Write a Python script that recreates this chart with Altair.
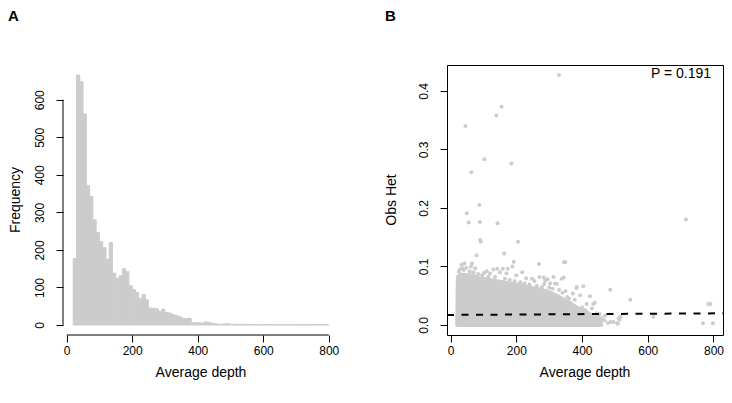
import altair as alt
import pandas as pd

# ---------------- Panel A: histogram of average depth ----------------
bin_starts = list(range(20, 800, 10))
bin_counts = [177, 666, 648, 562, 371, 342, 280, 246, 222, 206,
              175, 220, 138, 124, 131, 150, 142, 105, 94, 87,
              70, 81, 67, 45, 44, 43, 36, 42, 33, 32,
              28, 25, 22, 18, 17, 18, 6, 6, 6, 5,
              8, 7, 4, 3, 2, 2, 3, 3, 1, 2,
              1, 1, 2, 1, 1, 1, 0, 1, 1, 1,
              1, 0, 1, 0, 1, 1, 0, 1, 0, 1,
              0, 1, 0, 1, 1, 1, 1, 1]
hist_ticks_x = [0, 200, 400, 600, 800]
hist_ticks_y = [0, 100, 200, 300, 400, 500, 600]

# ---------------- Panel B: obs het vs average depth ----------------
# upper envelope of the dense (overplotted) point cloud
cloud_x = [20, 22, 30, 60, 90, 120, 150, 180, 210, 240, 270, 300, 330, 360, 390, 420, 440, 452, 458]
cloud_top = [0.0, 0.082, 0.086, 0.085, 0.080, 0.077, 0.074, 0.071, 0.068, 0.064,
             0.061, 0.056, 0.048, 0.038, 0.028, 0.020, 0.013, 0.008, 0.0]
# individually visible points
pt_x = [330, 45, 155, 139, 63, 103, 185, 49, 87, 55, 89, 143, 716, 90, 92, 205, 79, 163,
        269, 345, 349, 192,
        33, 42, 65, 62, 36, 28, 48, 75, 102, 110, 130, 142, 159, 174, 188, 120, 150, 170,
        200, 218, 230, 248, 255, 270, 283, 288, 303, 313, 318, 323, 338, 344, 355, 330,
        372, 378, 383, 384, 404, 394, 414, 424, 434, 439, 449, 454, 457, 479, 486, 487,
        496, 507, 509, 512, 514, 517, 547, 617, 768, 798, 785, 791,
        285, 300, 295, 310, 340, 350, 360, 365, 400, 410, 430, 445, 460, 468, 470,
        25, 40, 58, 70, 84, 96, 115, 135, 165, 180, 195, 212, 225, 240, 262, 278]
pt_y = [0.427, 0.340, 0.373, 0.358, 0.261, 0.283, 0.276, 0.191, 0.205, 0.175, 0.176, 0.174,
        0.180, 0.145, 0.142, 0.142, 0.119, 0.122,
        0.104, 0.107, 0.107, 0.108,
        0.103, 0.105, 0.105, 0.100, 0.097, 0.095, 0.098, 0.097, 0.089, 0.092, 0.095, 0.096,
        0.096, 0.096, 0.100, 0.088, 0.090, 0.088,
        0.085, 0.090, 0.080, 0.079, 0.075, 0.082, 0.081, 0.076, 0.071, 0.082, 0.071, 0.070,
        0.079, 0.081, 0.048, 0.060,
        0.054, 0.043, 0.063, 0.065, 0.066, 0.051, 0.036, 0.049, 0.036, 0.038, 0.014, 0.019,
        0.005, 0.0035, 0.060, 0.005,
        0.005, 0.003, 0.002, 0.011, 0.009, 0.014, 0.043, 0.014, 0.003, 0.003, 0.036, 0.036,
        0.070, 0.064, 0.078, 0.062, 0.055, 0.058, 0.045, 0.038, 0.030, 0.025, 0.028, 0.020,
        0.012, 0.008, 0.016,
        0.091, 0.094, 0.092, 0.090, 0.087, 0.085, 0.083, 0.082, 0.079, 0.077, 0.075, 0.073,
        0.071, 0.069, 0.067, 0.065]
fit_intercept = 0.01724
fit_slope = 0.0000033
p_label = "P = 0.191"
scat_ticks_x = [0, 200, 400, 600, 800]
scat_ticks_y = [0.0, 0.1, 0.2, 0.3, 0.4]

GREY = "#cccccc"
FONT = "Liberation Sans"
W, H = 276, 270

hist_df = pd.DataFrame({"start": bin_starts, "end": [s + 10 for s in bin_starts],
                        "count": bin_counts, "base": [0] * len(bin_starts)})
xA = alt.Scale(domain=[-11.2, 831.2], nice=False, zero=False)
yA = alt.Scale(domain=[-26.64, 692.64], nice=False, zero=False)

axis_common = dict(domain=False, grid=False, title=None, tickColor="black", tickSize=7,
                   labelColor="black", labelFont=FONT, labelFontSize=12)
x_axis = lambda vals: alt.Axis(values=vals, labelPadding=3, labelBaseline="top", **axis_common)
y_axis = lambda vals, fmt: alt.Axis(values=vals, format=fmt, labelAngle=270, labelAlign="center",
                                    labelBaseline="alphabetic", labelPadding=13, **axis_common)

bars = alt.Chart(hist_df).mark_bar(color=GREY, stroke=GREY, strokeWidth=1).encode(
    x=alt.X("start:Q", scale=xA, axis=x_axis(hist_ticks_x)),
    x2="end:Q",
    y=alt.Y("count:Q", scale=yA, axis=y_axis(hist_ticks_y, "d")),
    y2="base:Q",
)
one = pd.DataFrame({"k": [0]})
xline = alt.Chart(one).mark_rule(color="black", strokeWidth=1).encode(
    x=alt.datum(hist_ticks_x[0]), x2=alt.datum(hist_ticks_x[-1]), y=alt.value(H))
yline = alt.Chart(one).mark_rule(color="black", strokeWidth=1).encode(
    y=alt.datum(hist_ticks_y[0]), y2=alt.datum(hist_ticks_y[-1]), x=alt.value(0))


def txt(s, x, y, size=14, bold=False, angle=0, align="center", baseline="middle"):
    return alt.Chart(pd.DataFrame({"t": [s]})).mark_text(
        font=FONT, fontSize=size, fontWeight="bold" if bold else "normal", angle=angle,
        align=align, baseline=baseline, color="black").encode(
        text="t:N", x=alt.value(x), y=alt.value(y))


panelA = alt.layer(
    bars, xline, yline,
    txt("A", -55, -56, size=15, bold=True, align="left", baseline="top"),
    txt("Frequency", -47.5, H / 2, angle=270),
    txt("Average depth", W / 2, 308),
).properties(width=W, height=H, view=alt.ViewBackground(stroke=None))

# ---- panel B
xB = alt.Scale(domain=[-11, 829], nice=False, zero=False)
yB = alt.Scale(domain=[-0.01708, 0.4441], nice=False, zero=False)
cloud_df = pd.DataFrame({"x": cloud_x, "y": cloud_top})
pts_df = pd.DataFrame({"x": pt_x, "y": pt_y})
fit_df = pd.DataFrame({"x": [-11, 829]})
fit_df["y"] = fit_intercept + fit_slope * fit_df["x"]

cloud = alt.Chart(cloud_df).mark_area(color=GREY, stroke=GREY, strokeWidth=4, strokeJoin="round").encode(
    x=alt.X("x:Q", scale=xB, axis=x_axis(scat_ticks_x)),
    y=alt.Y("y:Q", scale=yB, axis=y_axis(scat_ticks_y, ".1f")),
    y2=alt.datum(0),
)
points = alt.Chart(pts_df).mark_circle(color=GREY, size=16, opacity=1).encode(x="x:Q", y="y:Q")
fit = alt.Chart(fit_df).mark_line(color="black", strokeWidth=2, strokeDash=[7, 7.5], clip=True).encode(
    x="x:Q", y="y:Q")
ptext = alt.Chart(pd.DataFrame({"t": [p_label], "x": [701], "y": [0.428]})).mark_text(
    font=FONT, fontSize=14, color="black").encode(text="t:N", x="x:Q", y="y:Q")

panelB = alt.layer(
    cloud, points, fit, ptext,
    txt("B", -62, -56, size=15, bold=True, align="left", baseline="top"),
    txt("Obs Het", -55, H / 2, angle=270),
    txt("Average depth", W / 2, 308),
).properties(width=W, height=H, view=alt.ViewBackground(stroke="black", strokeWidth=1))

chart = alt.hconcat(panelA, panelB, spacing=45).properties(padding=0).configure(
    font=FONT).configure_view(stroke=None)

chart.save("out.html", embed_options={"renderer": "svg", "actions": False})
